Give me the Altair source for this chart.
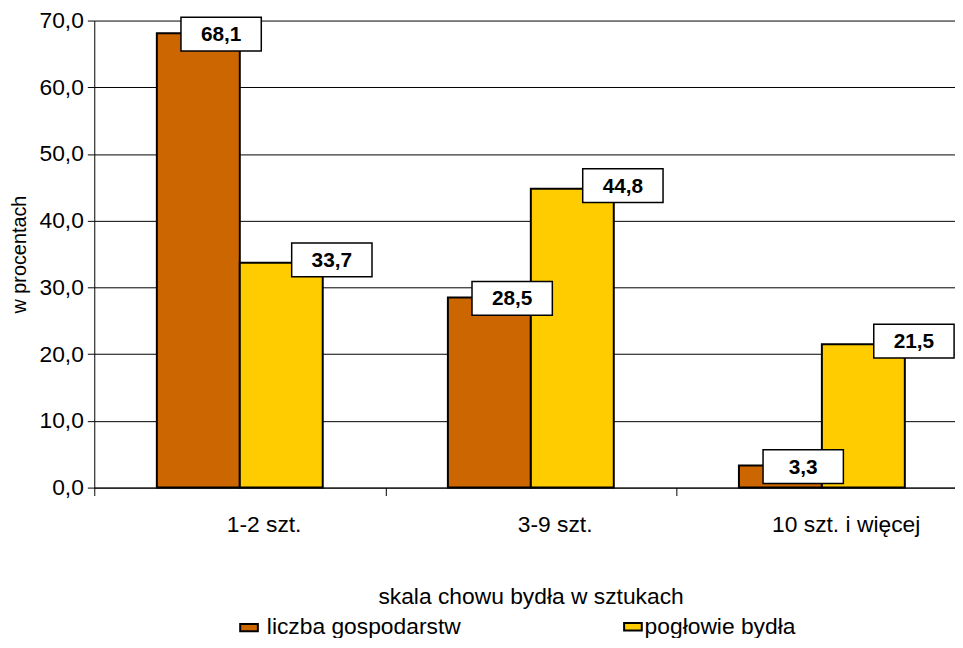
import json
import altair as alt
import pandas as pd

categories = ["1-2 szt.", "3-9 szt.", "10 szt. i więcej"]
series_names = ["liczba gospodarstw", "pogłowie bydła"]
liczba_gospodarstw = [68.1, 28.5, 3.3]
poglowie_bydla = [33.7, 44.8, 21.5]
y_ticks = [0, 10, 20, 30, 40, 50, 60, 70]
colors = ["#CC6600", "#FFCC00"]

rows = []
for i, (c, a, b) in enumerate(zip(categories, liczba_gospodarstw, poglowie_bydla)):
    rows.append({"cat": c, "idx": i, "series": series_names[0], "sidx": 0, "value": a})
    rows.append({"cat": c, "idx": i, "series": series_names[1], "sidx": 1, "value": b})
df = pd.DataFrame(rows)

FONT = "Liberation Sans"
W = 868            # plot width in px
H = 471            # plot height in px
STEP = 293.5       # px per category
GAP = 0.215        # outer gap of a category, fraction of step
BAR = 0.285        # bar width, fraction of step

x_scale = alt.Scale(domain=[0, W / STEP], nice=False, zero=False, padding=0)
y_scale = alt.Scale(domain=[0, 70], nice=False, padding=0)
cat_expr = "%s[datum.value]" % json.dumps(categories, ensure_ascii=False)

x_axis = alt.Axis(
    title="skala chowu bydła w sztukach",
    values=list(range(len(categories))),
    labelExpr=cat_expr,
    labelAngle=0,
    labelAlign="center",
    labelOffset=STEP / 2 + 24,
    labelFlush=False,
    labelOverlap=False,
    grid=False,
    tickSize=8,
    tickColor="black",
    domainColor="black",
    labelFontSize=23,
    labelFont=FONT,
    labelColor="black",
    labelPadding=18,
    titleFontSize=23,
    titleFont=FONT,
    titleFontWeight="normal",
    titleColor="black",
    titlePadding=50,
    titleX=440,
)

y_axis = alt.Axis(
    values=y_ticks,
    labelExpr="replace(format(datum.value, '.1f'), '.', ',')",
    title="w procentach",
    grid=True,
    gridColor="black",
    gridWidth=1,
    domainColor="black",
    tickColor="black",
    tickSize=7,
    labelFontSize=23,
    labelFont=FONT,
    labelColor="black",
    labelPadding=4,
    titleFontSize=20,
    titleFont=FONT,
    titleFontWeight="normal",
    titleColor="black",
    titlePadding=10,
)

base = alt.Chart().transform_calculate(
    x0="datum.idx + %f + datum.sidx * %f" % (GAP, BAR),
    x1="datum.idx + %f + (datum.sidx + 1) * %f" % (GAP, BAR),
    xc="datum.idx + %f + (datum.sidx + 0.5) * %f" % (GAP, BAR),
    label="replace(format(datum.value, '.1f'), '.', ',')",
)

color_scale = alt.Scale(domain=series_names, range=colors)

bars = base.mark_bar(stroke="black", strokeWidth=2, orient="vertical").encode(
    x=alt.X("x0:Q", scale=x_scale, axis=x_axis),
    x2="x1:Q",
    y=alt.Y("value:Q", scale=y_scale, axis=y_axis),
    y2=alt.datum(0),
    color=alt.Color("series:N", sort=series_names, scale=color_scale, legend=None),
)

legend_src = base.mark_point(shape="square", filled=True, opacity=0).encode(
    x=alt.X("xc:Q"),
    y=alt.Y("value:Q"),
    color=alt.Color(
        "series:N",
        sort=series_names,
        scale=color_scale,
        legend=alt.Legend(
            orient="none",
            legendX=139,
            legendY=600,
            direction="horizontal",
            title=None,
            padding=0,
            symbolType="M-1,-1.6H1V1.6H-1Z",
            symbolSize=484,
            symbolStrokeColor="black",
            symbolStrokeWidth=2,
            symbolOpacity=1,
            labelFontSize=23,
            labelFont=FONT,
            labelColor="black",
            labelOffset=11,
            labelLimit=500,
            columnPadding=150,
        ),
    ),
)

box_paths = [
    "M-0.35,-0.32H1.27V0.36H-0.35Z",
    "M0.21,-0.40H1.83V0.28H0.21Z",
]

boxes = base.mark_point(
    filled=True, fill="white", stroke="black", strokeWidth=1.5,
    size=10000, opacity=1, fillOpacity=1, strokeOpacity=1,
).encode(
    x=alt.X("xc:Q"),
    y=alt.Y("value:Q"),
    shape=alt.Shape("series:N", scale=alt.Scale(domain=series_names, range=box_paths), legend=None),
)

text_a = base.transform_filter(alt.datum.sidx == 0).mark_text(
    font=FONT, fontSize=21, fontWeight="bold", color="black",
    align="center", baseline="middle", dx=23, dy=2,
).encode(x=alt.X("xc:Q"), y=alt.Y("value:Q"), text="label:N")

text_b = base.transform_filter(alt.datum.sidx == 1).mark_text(
    font=FONT, fontSize=21, fontWeight="bold", color="black",
    align="center", baseline="middle", dx=51, dy=-2,
).encode(x=alt.X("xc:Q"), y=alt.Y("value:Q"), text="label:N")

chart = alt.layer(legend_src, bars, boxes, text_a, text_b, data=df).properties(
    width=W,
    height=H,
    padding={"left": 87, "top": 10, "right": 0, "bottom": 149},
    autosize=alt.AutoSizeParams(type="none"),
).configure_view(stroke=None)

chart.save("out.html", embed_options={"renderer": "svg", "actions": False})
